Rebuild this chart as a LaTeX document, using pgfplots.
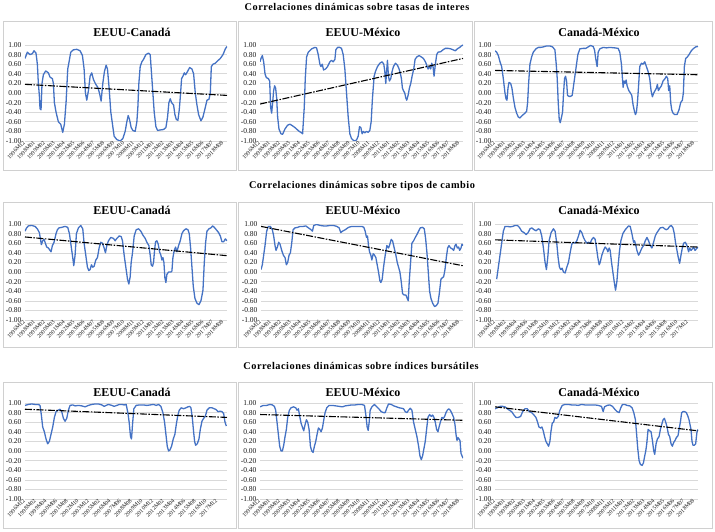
\documentclass[border=0pt]{standalone}
\usepackage{fontspec}
\setmainfont{Liberation Serif}
\newfontfamily\titfont[LetterSpace=5]{Liberation Serif}
\usepackage{pgfplots}
\pgfplotsset{compat=1.18}
\definecolor{azul}{HTML}{4472C4}
\definecolor{rejilla}{HTML}{D9D9D9}
\definecolor{marco}{HTML}{D0D0D0}

\pgfplotsset{
  panel/.style={
    scale only axis, anchor=north west, height=96pt,
    xmin=0, xmax=265, ymin=-1, ymax=1,
    ytick={-1,-0.8,-0.6,-0.4,-0.2,0,0.2,0.4,0.6,0.8,1},
    ymajorgrids, major grid style={rejilla, line width=0.6pt},
    axis line style={draw=none}, major tick length=0pt,
    tick label style={text=black!90},
    yticklabel style={font=\fontsize{7.5}{8}\selectfont},
    y tick label style={/pgf/number format/fixed, /pgf/number format/fixed zerofill,
      /pgf/number format/precision=2, /pgf/number format/assume math mode=true},
    xticklabel style={font=\fontsize{5.8}{6}\selectfont, rotate=45, anchor=east, inner sep=1pt},
  },
  m13/.style={xtick={0,13,...,260},
    xticklabels={1996M12,1998M01,1999M02,2000M03,2001M04,2002M05,2003M06,2004M07,2005M08,2006M09,2007M10,2008M11,2009M12,2011M01,2012M02,2013M03,2014M04,2015M05,2016M06,2017M07,2018M08}},
  m14/.style={xtick={0,14,...,252},
    xticklabels={1996M12,1998M02,1999M04,2000M06,2001M08,2002M10,2003M12,2005M02,2006M04,2007M06,2008M08,2009M10,2010M12,2012M02,2013M04,2014M06,2015M08,2016M10,2017M12}},
  linea/.style={azul, line width=1.3pt, line join=round},
  tend/.style={black, line width=1.1pt, dash pattern=on 7pt off 1.5pt on 1.5pt off 1.5pt},
  px/.style 2 args={x filter/.expression={(x-#1)*265/(#2-#1)}},
}

\begin{document}
\begin{tikzpicture}
\useasboundingbox (0pt,0pt) rectangle (715pt,-532pt);

% marcos de los paneles
\foreach \ya/\yb in {21/170, 202/347, 382/528}{
  \draw[marco, line width=0.7pt] (3pt,-\ya pt) rectangle (236pt,-\yb pt);
  \draw[marco, line width=0.7pt] (238pt,-\ya pt) rectangle (472pt,-\yb pt);
  \draw[marco, line width=0.7pt] (474pt,-\ya pt) rectangle (712pt,-\yb pt);
}

\node[font=\titfont\bfseries\fontsize{10.3}{12}\selectfont] at (357pt,-7pt) {Correlaciones dinámicas sobre tasas de interes};
\node[font=\titfont\bfseries\fontsize{10.3}{12}\selectfont] at (362pt,-186pt) {Correlaciones dinámicas sobre tipos de cambio};
\node[font=\titfont\bfseries\fontsize{10.3}{12}\selectfont] at (361pt,-366pt) {Correlaciones dinámicas sobre índices bursátiles};

\foreach \yt in {32, 210, 392}{
  \node[font=\bfseries\fontsize{12}{14}\selectfont] at (132pt,-\yt pt) {EEUU-Canadá};
  \node[font=\bfseries\fontsize{12}{14}\selectfont] at (363pt,-\yt pt) {EEUU-México};
  \node[font=\bfseries\fontsize{12}{14}\selectfont] at (599pt,-\yt pt) {Canadá-México};
}

% ---------- tasas de interes ----------
\begin{axis}[panel, m13, px={75}{680}, at={(25pt,-45pt)}, width=202pt]
\addplot[linea] coordinates {
(75,0.72) (82,0.85) (90,0.80) (97,0.82) (102,0.88) (108,0.83) (112,0.60) (115,0.20) (118,-0.05) (120,-0.33)
(123,-0.35) (126,0.20) (130,0.38) (137,0.46) (145,0.42) (150,0.33) (157,0.30) (160,0.20) (163,-0.20) (168,-0.40)
(175,-0.60) (182,-0.65) (188,-0.82) (193,-0.65) (198,-0.20) (203,0.50) (207,0.65) (212,0.85) (220,0.90) (230,0.91)
(240,0.88) (247,0.78) (252,0.50) (256,0.00) (260,-0.15) (265,0.05) (270,0.35) (275,0.42) (280,0.28) (287,0.18)
(293,0.12) (298,0.00) (303,-0.17) (308,0.20) (313,0.45) (318,0.58) (322,0.50) (327,0.10) (332,-0.40) (338,-0.70)
(342,-0.90) (350,-0.97) (360,-1.00) (368,-0.95) (375,-0.80) (380,-0.60) (384,-0.47) (388,-0.55) (393,-0.72) (398,-0.78)
(405,-0.80) (410,-0.60) (413,-0.30) (416,0.20) (420,0.55) (425,0.65) (430,0.70) (437,0.80) (445,0.83) (450,0.80)
(453,0.50) (457,0.10) (462,-0.40) (467,-0.70) (472,-0.78) (480,-0.77) (490,-0.76) (497,-0.72) (502,-0.50) (506,-0.20)
(510,-0.12) (514,-0.20) (520,-0.25) (524,-0.45) (528,-0.55) (533,-0.57) (537,-0.35) (540,-0.10) (544,0.30) (548,0.35)
(552,0.42) (556,0.38) (562,0.45) (568,0.53) (575,0.50) (580,0.40) (585,0.00) (590,-0.25) (595,-0.45) (602,-0.58)
(608,-0.50) (615,-0.30) (620,-0.15) (626,-0.13) (630,0.00) (633,0.55) (638,0.60) (645,0.62) (652,0.67) (660,0.72)
(668,0.80) (675,0.92) (680,0.97)};
\addplot[tend] coordinates {(75,0.18) (680,-0.05)};
\end{axis}

\begin{axis}[panel, m13, px={75}{685}, at={(260pt,-45pt)}, width=203pt]
\addplot[linea] coordinates {
(75,0.65) (78,0.72) (82,0.78) (86,0.65) (90,0.40) (94,0.32) (100,0.30) (104,0.25) (107,-0.30) (110,-0.42)
(113,-0.20) (116,0.05) (119,0.15) (122,0.10) (125,-0.10) (128,-0.50) (132,-0.75) (138,-0.85) (143,-0.86) (150,-0.75)
(158,-0.67) (165,-0.65) (172,-0.68) (180,-0.72) (188,-0.77) (193,-0.80) (198,-0.82) (203,-0.85) (208,-0.30) (211,0.30)
(215,0.75) (220,0.85) (230,0.92) (240,0.95) (245,0.94) (250,0.80) (255,0.60) (258,0.55) (262,0.60) (266,0.48)
(272,0.50) (278,0.55) (285,0.65) (290,0.68) (295,0.65) (300,0.70) (303,0.90) (308,0.95) (315,0.95) (320,0.93)
(325,0.80) (330,0.50) (335,0.00) (340,-0.50) (345,-0.85) (350,-0.95) (358,-1.00) (365,-0.98) (370,-0.90) (374,-0.70)
(378,-0.72) (382,-0.85) (386,-0.80) (390,-0.83) (395,-0.80) (400,-0.82) (405,-0.78) (409,-0.60) (413,-0.10) (418,0.35)
(422,0.45) (428,0.55) (435,0.62) (442,0.65) (447,0.60) (450,0.45) (453,0.20) (456,0.50) (458,0.68) (461,0.35)
(464,0.25) (468,0.30) (472,0.45) (476,0.55) (482,0.62) (488,0.58) (493,0.50) (497,0.40) (500,0.30) (503,0.10)
(506,0.05) (510,0.00) (513,-0.10) (516,-0.15) (520,-0.05) (524,0.10) (528,0.20) (532,0.35) (537,0.50) (541,0.70)
(546,0.75) (553,0.78) (560,0.75) (566,0.72) (572,0.65) (576,0.58) (580,0.50) (584,0.55) (588,0.50) (591,0.62)
(595,0.55) (598,0.35) (602,0.60) (606,0.80) (610,0.85) (618,0.86) (625,0.90) (632,0.93) (640,0.93) (648,0.92)
(655,0.90) (662,0.88) (668,0.92) (675,0.95) (680,0.98) (685,1.00)};
\addplot[tend] coordinates {(75,-0.23) (685,0.72)};
\end{axis}

\begin{axis}[panel, m13, px={75}{685}, at={(495pt,-45pt)}, width=203pt]
\addplot[linea] coordinates {
(75,0.88) (80,0.85) (85,0.78) (90,0.65) (95,0.55) (100,0.30) (105,0.00) (108,-0.12) (111,-0.15) (114,0.10)
(117,0.22) (122,0.20) (126,0.10) (130,-0.10) (135,-0.30) (140,-0.42) (145,-0.50) (150,-0.52) (155,-0.48) (160,-0.45)
(165,-0.42) (170,-0.38) (173,-0.20) (176,0.20) (180,0.60) (185,0.75) (190,0.85) (198,0.92) (205,0.95) (212,0.95)
(220,0.96) (230,0.98) (240,0.98) (248,0.96) (255,0.90) (259,0.60) (262,0.30) (265,-0.20) (268,-0.55) (271,-0.62)
(275,-0.50) (278,-0.40) (281,0.00) (284,0.30) (287,0.35) (290,0.25) (293,-0.05) (297,-0.07) (302,-0.07) (307,-0.05)
(312,0.20) (318,0.50) (324,0.80) (330,0.92) (340,0.93) (348,0.93) (355,0.96) (362,0.99) (370,0.97) (374,0.90)
(377,0.75) (380,0.62) (382,0.55) (385,0.85) (390,0.92) (400,0.95) (410,0.94) (420,0.95) (435,0.94) (445,0.93)
(450,0.85) (455,0.60) (458,0.30) (460,0.12) (463,0.25) (466,0.20) (469,0.27) (472,0.15) (477,0.05) (482,0.00)
(486,-0.05) (490,-0.25) (494,-0.38) (497,-0.45) (500,-0.40) (503,-0.20) (506,0.10) (510,0.55) (515,0.62) (520,0.60)
(525,0.65) (530,0.55) (535,0.45) (540,0.30) (544,0.05) (548,-0.08) (552,0.00) (556,0.05) (560,0.10) (563,0.18)
(566,0.05) (570,0.10) (575,0.15) (580,0.25) (586,0.30) (590,0.35) (594,0.30) (597,0.05) (600,0.15) (603,-0.20)
(606,-0.35) (610,-0.42) (615,-0.45) (622,-0.45) (628,-0.35) (633,-0.20) (638,-0.15) (641,0.00) (644,0.55) (648,0.72)
(653,0.75) (658,0.80) (665,0.88) (672,0.93) (678,0.96) (685,0.97)};
\addplot[tend] coordinates {(75,0.47) (685,0.38)};
\end{axis}

% ---------- tipos de cambio ----------
\begin{axis}[panel, m13, px={75}{680}, at={(25pt,-224pt)}, width=202pt]
\addplot[linea] coordinates {
(75,0.85) (80,0.92) (85,0.96) (95,0.97) (105,0.95) (112,0.90) (118,0.82) (121,0.70) (124,0.57) (128,0.65)
(132,0.68) (135,0.62) (140,0.52) (145,0.50) (150,0.45) (153,0.42) (157,0.55) (162,0.62) (168,0.80) (172,0.88)
(177,0.92) (185,0.93) (195,0.95) (203,0.93) (208,0.80) (213,0.55) (218,0.30) (221,0.13) (225,0.35) (229,0.80)
(235,0.92) (242,0.97) (248,0.90) (252,0.60) (257,0.35) (262,0.10) (266,0.03) (270,0.05) (274,0.15) (278,0.10)
(282,0.12) (287,0.25) (292,0.30) (297,0.50) (302,0.62) (307,0.60) (312,0.50) (316,0.40) (320,0.55) (325,0.65)
(332,0.72) (340,0.70) (345,0.65) (350,0.70) (357,0.75) (363,0.74) (367,0.65) (372,0.35) (377,0.10) (382,-0.15)
(386,-0.25) (390,-0.10) (393,0.20) (397,0.40) (402,0.75) (408,0.88) (415,0.90) (422,0.85) (428,0.77) (435,0.70)
(440,0.62) (446,0.55) (450,0.35) (453,0.15) (457,0.12) (460,0.20) (463,0.45) (466,0.63) (470,0.65) (474,0.58)
(478,0.42) (482,0.35) (485,0.25) (488,0.30) (491,0.20) (494,-0.12) (497,-0.22) (500,-0.05) (505,0.00) (512,0.00)
(515,0.02) (518,0.30) (522,0.45) (526,0.52) (530,0.42) (535,0.55) (540,0.65) (545,0.80) (550,0.86) (557,0.90)
(563,0.88) (567,0.80) (571,0.50) (575,0.10) (579,-0.30) (584,-0.55) (590,-0.65) (596,-0.68) (602,-0.60) (608,-0.38)
(612,0.20) (616,0.62) (620,0.85) (626,0.90) (632,0.92) (637,0.96) (642,0.93) (648,0.88) (655,0.82) (660,0.75)
(665,0.63) (670,0.63) (675,0.69) (680,0.65)};
\addplot[tend] coordinates {(75,0.73) (680,0.34)};
\end{axis}

\begin{axis}[panel, m13, px={78}{683}, at={(261pt,-224pt)}, width=202pt]
\addplot[linea] coordinates {
(78,0.05) (82,0.15) (85,0.30) (90,0.55) (95,0.85) (100,0.95) (106,0.95) (112,0.88) (116,0.75) (120,0.55)
(123,0.45) (127,0.52) (131,0.62) (135,0.58) (140,0.45) (145,0.35) (150,0.30) (154,0.15) (158,0.20) (162,0.35)
(166,0.40) (170,0.60) (174,0.88) (180,0.92) (188,0.93) (195,0.95) (205,0.95) (212,0.96) (220,0.92) (228,0.88)
(232,0.85) (236,0.97) (245,0.99) (255,0.97) (265,0.96) (275,0.96) (285,0.97) (295,0.97) (305,0.95) (312,0.92)
(317,0.82) (322,0.85) (330,0.88) (340,0.93) (350,0.95) (360,0.95) (370,0.95) (380,0.95) (386,0.93) (390,0.85)
(394,0.72) (397,0.75) (400,0.55) (403,0.42) (407,0.35) (410,0.25) (414,0.38) (418,0.35) (422,0.30) (426,0.15)
(430,0.00) (434,-0.18) (437,-0.22) (441,-0.15) (445,0.10) (450,0.35) (455,0.55) (460,0.50) (464,0.58) (468,0.68)
(472,0.65) (477,0.50) (482,0.35) (486,0.20) (490,0.10) (494,0.00) (498,-0.20) (502,-0.45) (507,-0.48) (512,-0.48)
(516,-0.55) (519,-0.60) (522,-0.20) (526,0.20) (530,0.60) (535,0.65) (540,0.72) (545,0.78) (550,0.85) (555,0.92)
(562,0.93) (567,0.90) (571,0.70) (575,0.40) (579,0.00) (583,-0.40) (587,-0.55) (592,-0.65) (598,-0.72) (603,-0.70)
(608,-0.65) (612,-0.45) (617,-0.15) (621,-0.12) (625,-0.10) (629,0.05) (633,0.30) (637,0.50) (641,0.55) (646,0.50)
(651,0.48) (655,0.45) (659,0.55) (662,0.58) (666,0.50) (670,0.52) (673,0.45) (677,0.50) (680,0.58) (683,0.55)};
\addplot[tend] coordinates {(78,0.95) (683,0.13)};
\end{axis}

\begin{axis}[panel, m14, px={75}{683}, at={(495pt,-224pt)}, width=203pt]
\addplot[linea] coordinates {
(80,-0.15) (85,0.10) (90,0.35) (95,0.60) (100,0.85) (105,0.95) (112,0.95) (120,0.94) (128,0.95) (135,0.97)
(142,0.97) (148,0.93) (155,0.85) (162,0.82) (168,0.78) (174,0.82) (180,0.90) (185,0.92) (192,0.88) (198,0.86)
(205,0.90) (210,0.88) (215,0.75) (220,0.50) (225,0.20) (229,0.05) (233,0.30) (237,0.65) (243,0.82) (250,0.90)
(255,0.85) (260,0.60) (264,0.30) (268,0.10) (272,0.05) (276,0.08) (280,0.00) (285,-0.02) (290,0.10) (295,0.20)
(300,0.40) (305,0.58) (310,0.62) (315,0.60) (320,0.65) (325,0.75) (330,0.87) (335,0.82) (340,0.72) (345,0.65)
(350,0.60) (355,0.62) (360,0.60) (365,0.68) (370,0.72) (375,0.68) (379,0.50) (383,0.30) (387,0.15) (390,0.20)
(395,0.35) (400,0.45) (405,0.52) (410,0.48) (413,0.42) (417,0.50) (420,0.45) (424,0.20) (428,0.00) (432,-0.20)
(436,-0.38) (440,-0.20) (444,0.15) (448,0.45) (452,0.65) (458,0.80) (465,0.88) (470,0.92) (475,0.96) (480,0.95)
(485,0.80) (490,0.62) (493,0.65) (497,0.55) (500,0.45) (505,0.35) (510,0.42) (515,0.50) (520,0.55) (525,0.65)
(530,0.72) (535,0.65) (540,0.55) (545,0.50) (550,0.62) (555,0.75) (560,0.82) (565,0.87) (570,0.92) (578,0.93)
(583,0.90) (588,0.88) (593,0.90) (598,0.95) (603,0.97) (608,0.92) (612,0.80) (616,0.60) (620,0.45) (624,0.30)
(628,0.18) (632,0.35) (636,0.50) (640,0.60) (645,0.62) (650,0.55) (655,0.42) (658,0.50) (662,0.45) (666,0.48)
(670,0.52) (674,0.45) (678,0.48) (683,0.52)};
\addplot[tend] coordinates {(75,0.67) (683,0.52)};
\end{axis}

% ---------- indices bursatiles ----------
\begin{axis}[panel, m14, px={75}{680}, at={(25pt,-403pt)}, width=202pt]
\addplot[linea] coordinates {
(75,0.95) (85,0.97) (95,0.98) (105,0.97) (115,0.97) (120,0.95) (124,0.75) (128,0.50) (133,0.40) (138,0.25)
(143,0.15) (148,0.20) (153,0.35) (158,0.50) (163,0.70) (168,0.82) (174,0.85) (180,0.87) (185,0.82) (190,0.68)
(195,0.62) (200,0.68) (205,0.85) (210,0.95) (218,0.96) (225,0.94) (235,0.95) (245,0.94) (255,0.92) (265,0.95)
(275,0.97) (285,0.98) (295,0.98) (305,0.96) (312,0.93) (318,0.95) (325,0.97) (335,0.95) (342,0.93) (350,0.95)
(358,0.97) (365,0.97) (372,0.96) (378,0.97) (383,0.80) (387,0.60) (391,0.30) (394,0.25) (397,0.55) (401,0.88)
(408,0.95) (418,0.96) (430,0.96) (440,0.95) (450,0.96) (460,0.97) (468,0.95) (475,0.97) (482,0.93) (488,0.80)
(493,0.60) (497,0.35) (501,0.10) (505,0.00) (509,0.02) (514,0.10) (519,0.25) (524,0.35) (528,0.55) (533,0.75)
(537,0.85) (543,0.90) (550,0.88) (557,0.90) (563,0.92) (568,0.93) (572,0.90) (576,0.70) (580,0.40) (583,0.20)
(586,0.12) (591,0.15) (596,0.25) (600,0.45) (605,0.62) (610,0.68) (615,0.72) (620,0.85) (627,0.90) (635,0.90)
(642,0.88) (648,0.86) (653,0.82) (660,0.83) (665,0.82) (670,0.78) (674,0.60) (678,0.52)};
\addplot[tend] coordinates {(75,0.87) (680,0.70)};
\end{axis}

\begin{axis}[panel, m13, px={75}{683}, at={(260pt,-403pt)}, width=203pt]
\addplot[linea] coordinates {
(75,0.92) (85,0.95) (95,0.95) (105,0.97) (112,0.96) (118,0.93) (122,0.85) (126,0.60) (130,0.35) (134,0.10)
(138,0.00) (142,0.00) (146,0.12) (150,0.30) (154,0.45) (158,0.70) (163,0.85) (168,0.90) (175,0.92) (182,0.90)
(186,0.85) (190,0.88) (194,0.72) (198,0.58) (202,0.50) (206,0.42) (210,0.55) (214,0.65) (218,0.60) (222,0.45)
(226,0.10) (230,0.00) (234,-0.03) (238,0.10) (242,0.20) (246,0.35) (250,0.48) (254,0.45) (258,0.40) (262,0.48)
(266,0.65) (270,0.80) (275,0.90) (282,0.95) (292,0.95) (302,0.94) (312,0.93) (322,0.92) (330,0.94) (340,0.95)
(350,0.96) (360,0.96) (370,0.97) (380,0.97) (388,0.95) (392,0.75) (396,0.50) (399,0.43) (402,0.60) (405,0.85)
(410,0.92) (418,0.97) (425,0.92) (432,0.87) (438,0.82) (445,0.80) (450,0.80) (455,0.90) (460,0.98) (468,0.97)
(476,0.94) (484,0.92) (492,0.90) (500,0.89) (505,0.88) (510,0.82) (515,0.80) (520,0.85) (525,0.89) (530,0.85)
(535,0.60) (540,0.45) (545,0.30) (550,0.10) (554,-0.10) (558,-0.18) (562,-0.10) (566,0.05) (570,0.20) (574,0.45)
(578,0.70) (583,0.76) (588,0.72) (592,0.75) (596,0.70) (600,0.60) (604,0.45) (608,0.40) (612,0.52) (616,0.62)
(620,0.70) (624,0.68) (628,0.72) (632,0.80) (636,0.85) (640,0.88) (645,0.85) (650,0.78) (655,0.70) (659,0.55)
(662,0.35) (665,0.22) (668,0.28) (671,0.25) (674,0.22) (677,-0.05) (680,-0.10) (683,-0.15)};
\addplot[tend] coordinates {(75,0.76) (683,0.64)};
\end{axis}

\begin{axis}[panel, m13, px={75}{685}, at={(495pt,-403pt)}, width=203pt]
\addplot[linea] coordinates {
(75,0.88) (82,0.90) (90,0.93) (98,0.93) (105,0.92) (112,0.88) (118,0.85) (125,0.82) (132,0.75) (138,0.70)
(145,0.70) (152,0.72) (158,0.82) (165,0.88) (172,0.88) (178,0.82) (185,0.80) (192,0.75) (198,0.70) (203,0.60)
(207,0.50) (212,0.48) (216,0.50) (220,0.42) (224,0.30) (228,0.20) (232,0.15) (236,0.10) (240,0.20) (243,0.40)
(247,0.58) (251,0.60) (255,0.70) (260,0.68) (265,0.72) (270,0.85) (277,0.95) (285,0.97) (295,0.97) (305,0.96)
(315,0.96) (325,0.95) (335,0.97) (345,0.96) (355,0.96) (365,0.96) (375,0.96) (385,0.95) (395,0.93) (400,0.82)
(404,0.92) (412,0.95) (420,0.96) (428,0.93) (435,0.87) (442,0.82) (448,0.80) (453,0.90) (458,0.97) (465,0.97)
(472,0.95) (480,0.94) (487,0.90) (492,0.80) (497,0.65) (500,0.40) (504,0.05) (508,-0.20) (512,-0.28) (517,-0.30)
(521,-0.25) (525,-0.10) (528,0.00) (531,0.15) (535,0.45) (540,0.42) (544,0.40) (548,0.22) (552,0.00) (555,-0.07)
(559,0.15) (563,0.25) (568,0.30) (572,0.45) (576,0.55) (580,0.65) (584,0.68) (588,0.60) (592,0.50) (596,0.35)
(600,0.30) (604,0.15) (608,0.10) (612,0.18) (616,0.22) (620,0.28) (625,0.32) (628,0.45) (632,0.60) (636,0.80)
(640,0.82) (645,0.82) (650,0.80) (655,0.72) (658,0.65) (661,0.55) (664,0.45) (667,0.20) (670,0.12) (674,0.12)
(678,0.15) (682,0.40) (685,0.45)};
\addplot[tend] coordinates {(75,0.92) (685,0.42)};
\end{axis}
\end{tikzpicture}
\end{document}
